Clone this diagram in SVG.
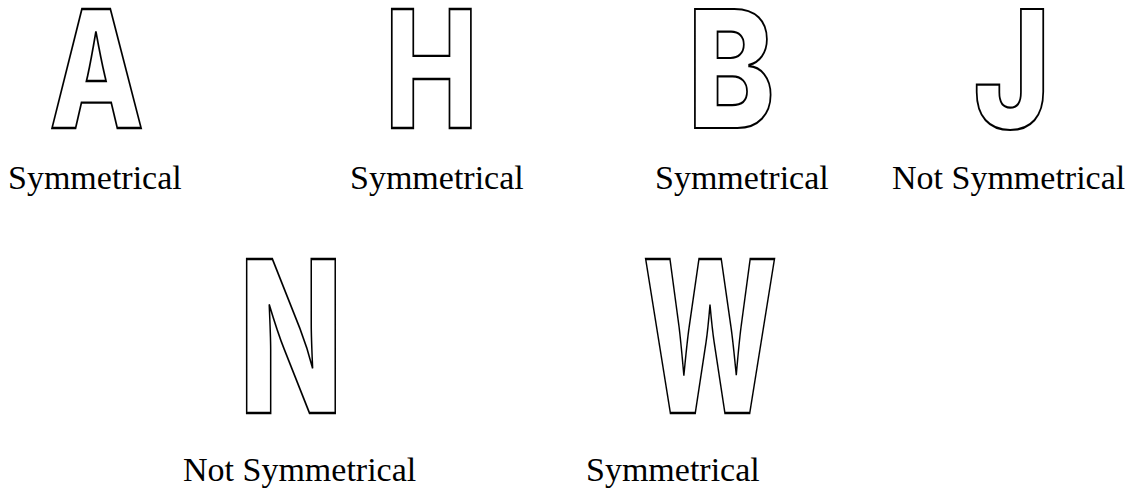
<svg xmlns="http://www.w3.org/2000/svg" width="1135" height="494" viewBox="0 0 1135 494">
<style>
.glyph{font-family:Inter,Roboto,"Liberation Sans",sans-serif;font-weight:800;fill:#fff;stroke:#000;stroke-width:2;stroke-linejoin:miter;text-anchor:middle}
.r1{font-size:164px}
.r2{font-size:212px}
.lbl{font-family:"Liberation Serif","Times New Roman",serif;font-size:34px;fill:#000}
</style>
<rect width="1135" height="494" fill="#fff"/>
<g id="letter-A"><text class="glyph r1" vector-effect="non-scaling-stroke" transform="translate(96.5,128) scale(0.75,1)">A</text><text class="lbl" x="8" y="189">Symmetrical</text></g>
<g id="letter-H"><text class="glyph r1" vector-effect="non-scaling-stroke" transform="translate(431.5,128) scale(0.76,1)">H</text><text class="lbl" x="350" y="189">Symmetrical</text></g>
<g id="letter-B"><text class="glyph r1" vector-effect="non-scaling-stroke" transform="translate(731,128) scale(0.8,1)">B</text><text class="lbl" x="655" y="189">Symmetrical</text></g>
<g id="letter-J"><text class="glyph r1" vector-effect="non-scaling-stroke" transform="translate(1012,128) scale(0.8,1)">J</text><text class="lbl" x="892" y="189">Not Symmetrical</text></g>
<g id="letter-N"><text class="glyph r2" vector-effect="non-scaling-stroke" transform="translate(291,413) scale(0.64,1)">N</text><text class="lbl" x="183" y="481">Not Symmetrical</text></g>
<g id="letter-W"><text class="glyph r2" vector-effect="non-scaling-stroke" transform="translate(710,413) scale(0.6,1)">W</text><text class="lbl" x="586" y="481">Symmetrical</text></g>
<g id="connectors"></g>
</svg>
